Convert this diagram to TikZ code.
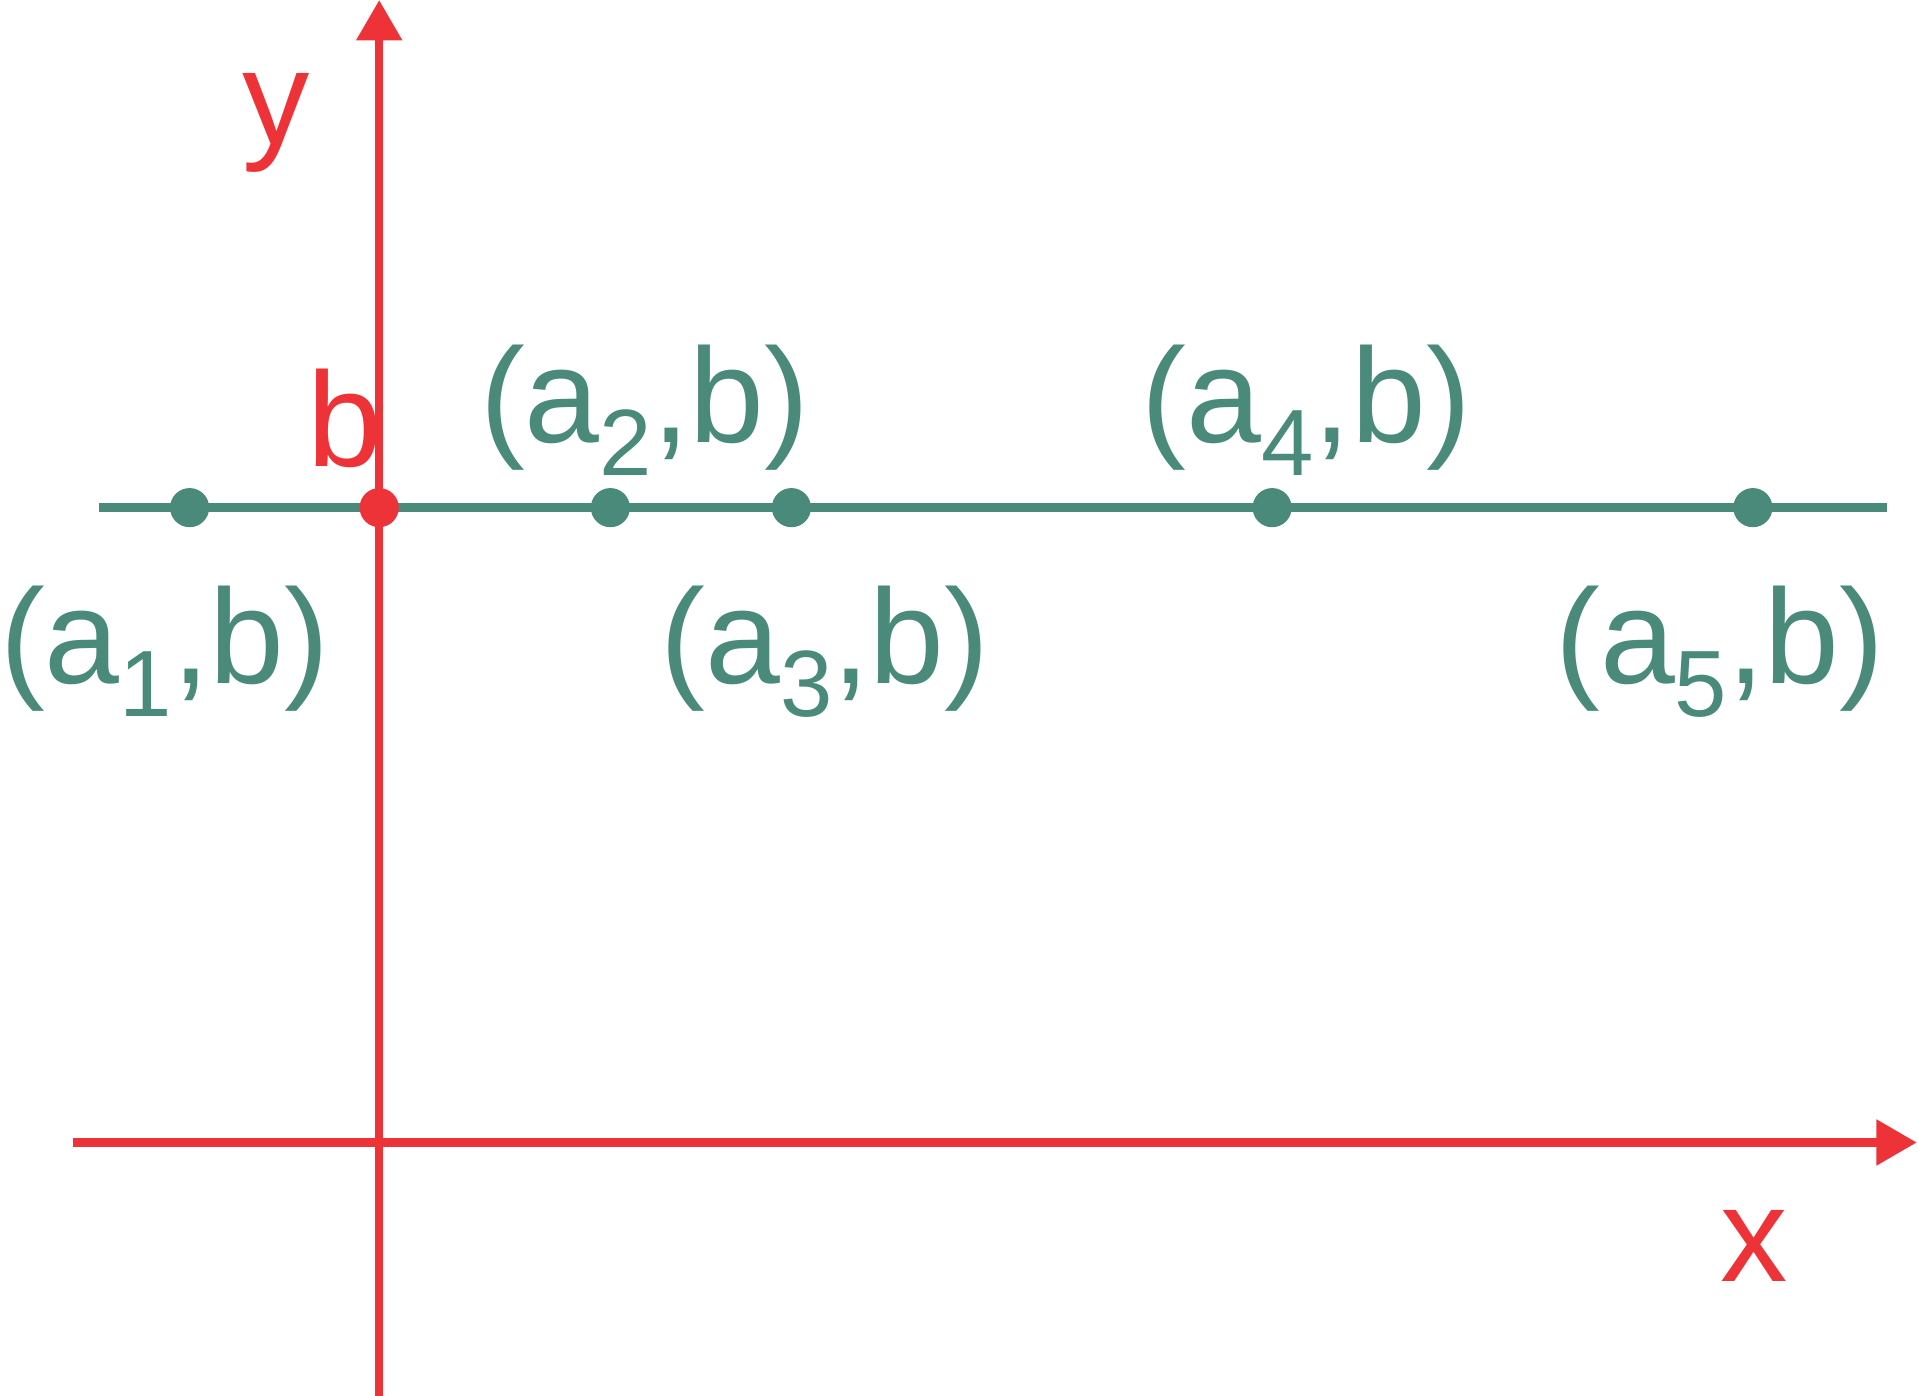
\documentclass[tikz,border=0pt]{standalone}
\usepackage{fontspec}
\setmainfont{Liberation Sans}
\usetikzlibrary{arrows.meta}
\usetikzlibrary{positioning}
\definecolor{myred}{HTML}{EE3338}
\definecolor{mygreen}{HTML}{4A8A7B}
\newcommand{\idx}[1]{\raisebox{-13.5pt}{\fontsize{38.5}{40}\selectfont #1}}

\begin{document}
\begin{tikzpicture}[
    x=0.5pt, y=-0.5pt,
    line width=3.4pt,
    axis/.style={draw=myred, -{Triangle[width=18pt, length=16.5pt]}},
    dot/.style={circle, anchor=center, minimum size=16pt, fill=#1},
    every node/.style={
      inner sep=0pt,
      anchor=base,
      font=\fontsize{55}{66}\selectfont
    }
]
  \useasboundingbox (0,0) rectangle (1568,1141);

  % horizontal line y = b
  \coordinate (lineleft) at (81,415);
  \coordinate (lineright) at (1543,415);
  \draw[mygreen] (lineleft) -- (lineright);

  \node[dot=mygreen] (a1) at (155,415) {};
  \node[dot=mygreen] (a2) at (499,415) {};
  \node[dot=mygreen] (a3) at (647,415) {};
  \node[dot=mygreen] (a4) at (1040,415) {};
  \node[dot=mygreen] (a5) at (1433,415) {};

  \node[text=mygreen] (a1label) at (134.5,559) {(a\idx{1},b)};
  \node[text=mygreen] (a2label) at (527,362) {(a\idx{2},b)};
  \node[text=mygreen] (a3label) at (674.5,559) {(a\idx{3},b)};
  \node[text=mygreen] (a4label) at (1068,362) {(a\idx{4},b)};
  \node[text=mygreen] (a5label) at (1406,559) {(a\idx{5},b)};

  % axes
  \coordinate (xstart) at (60,934);
  \coordinate (xend) at (1567,934);
  \coordinate (ystart) at (310,1141);
  \coordinate (yend) at (310,0);
  \draw[axis] (xstart) -- (xend);
  \draw[axis] (ystart) -- (yend);

  \node[text=myred] (xlabel) at (1434,1048) {x};
  \node[text=myred] (ylabel) at (226,118) {y};
  \node[text=myred] (blabel) at (282,381) {b};

  \node[dot=myred] (b) at (310,415) {};

\end{tikzpicture}
\end{document}
